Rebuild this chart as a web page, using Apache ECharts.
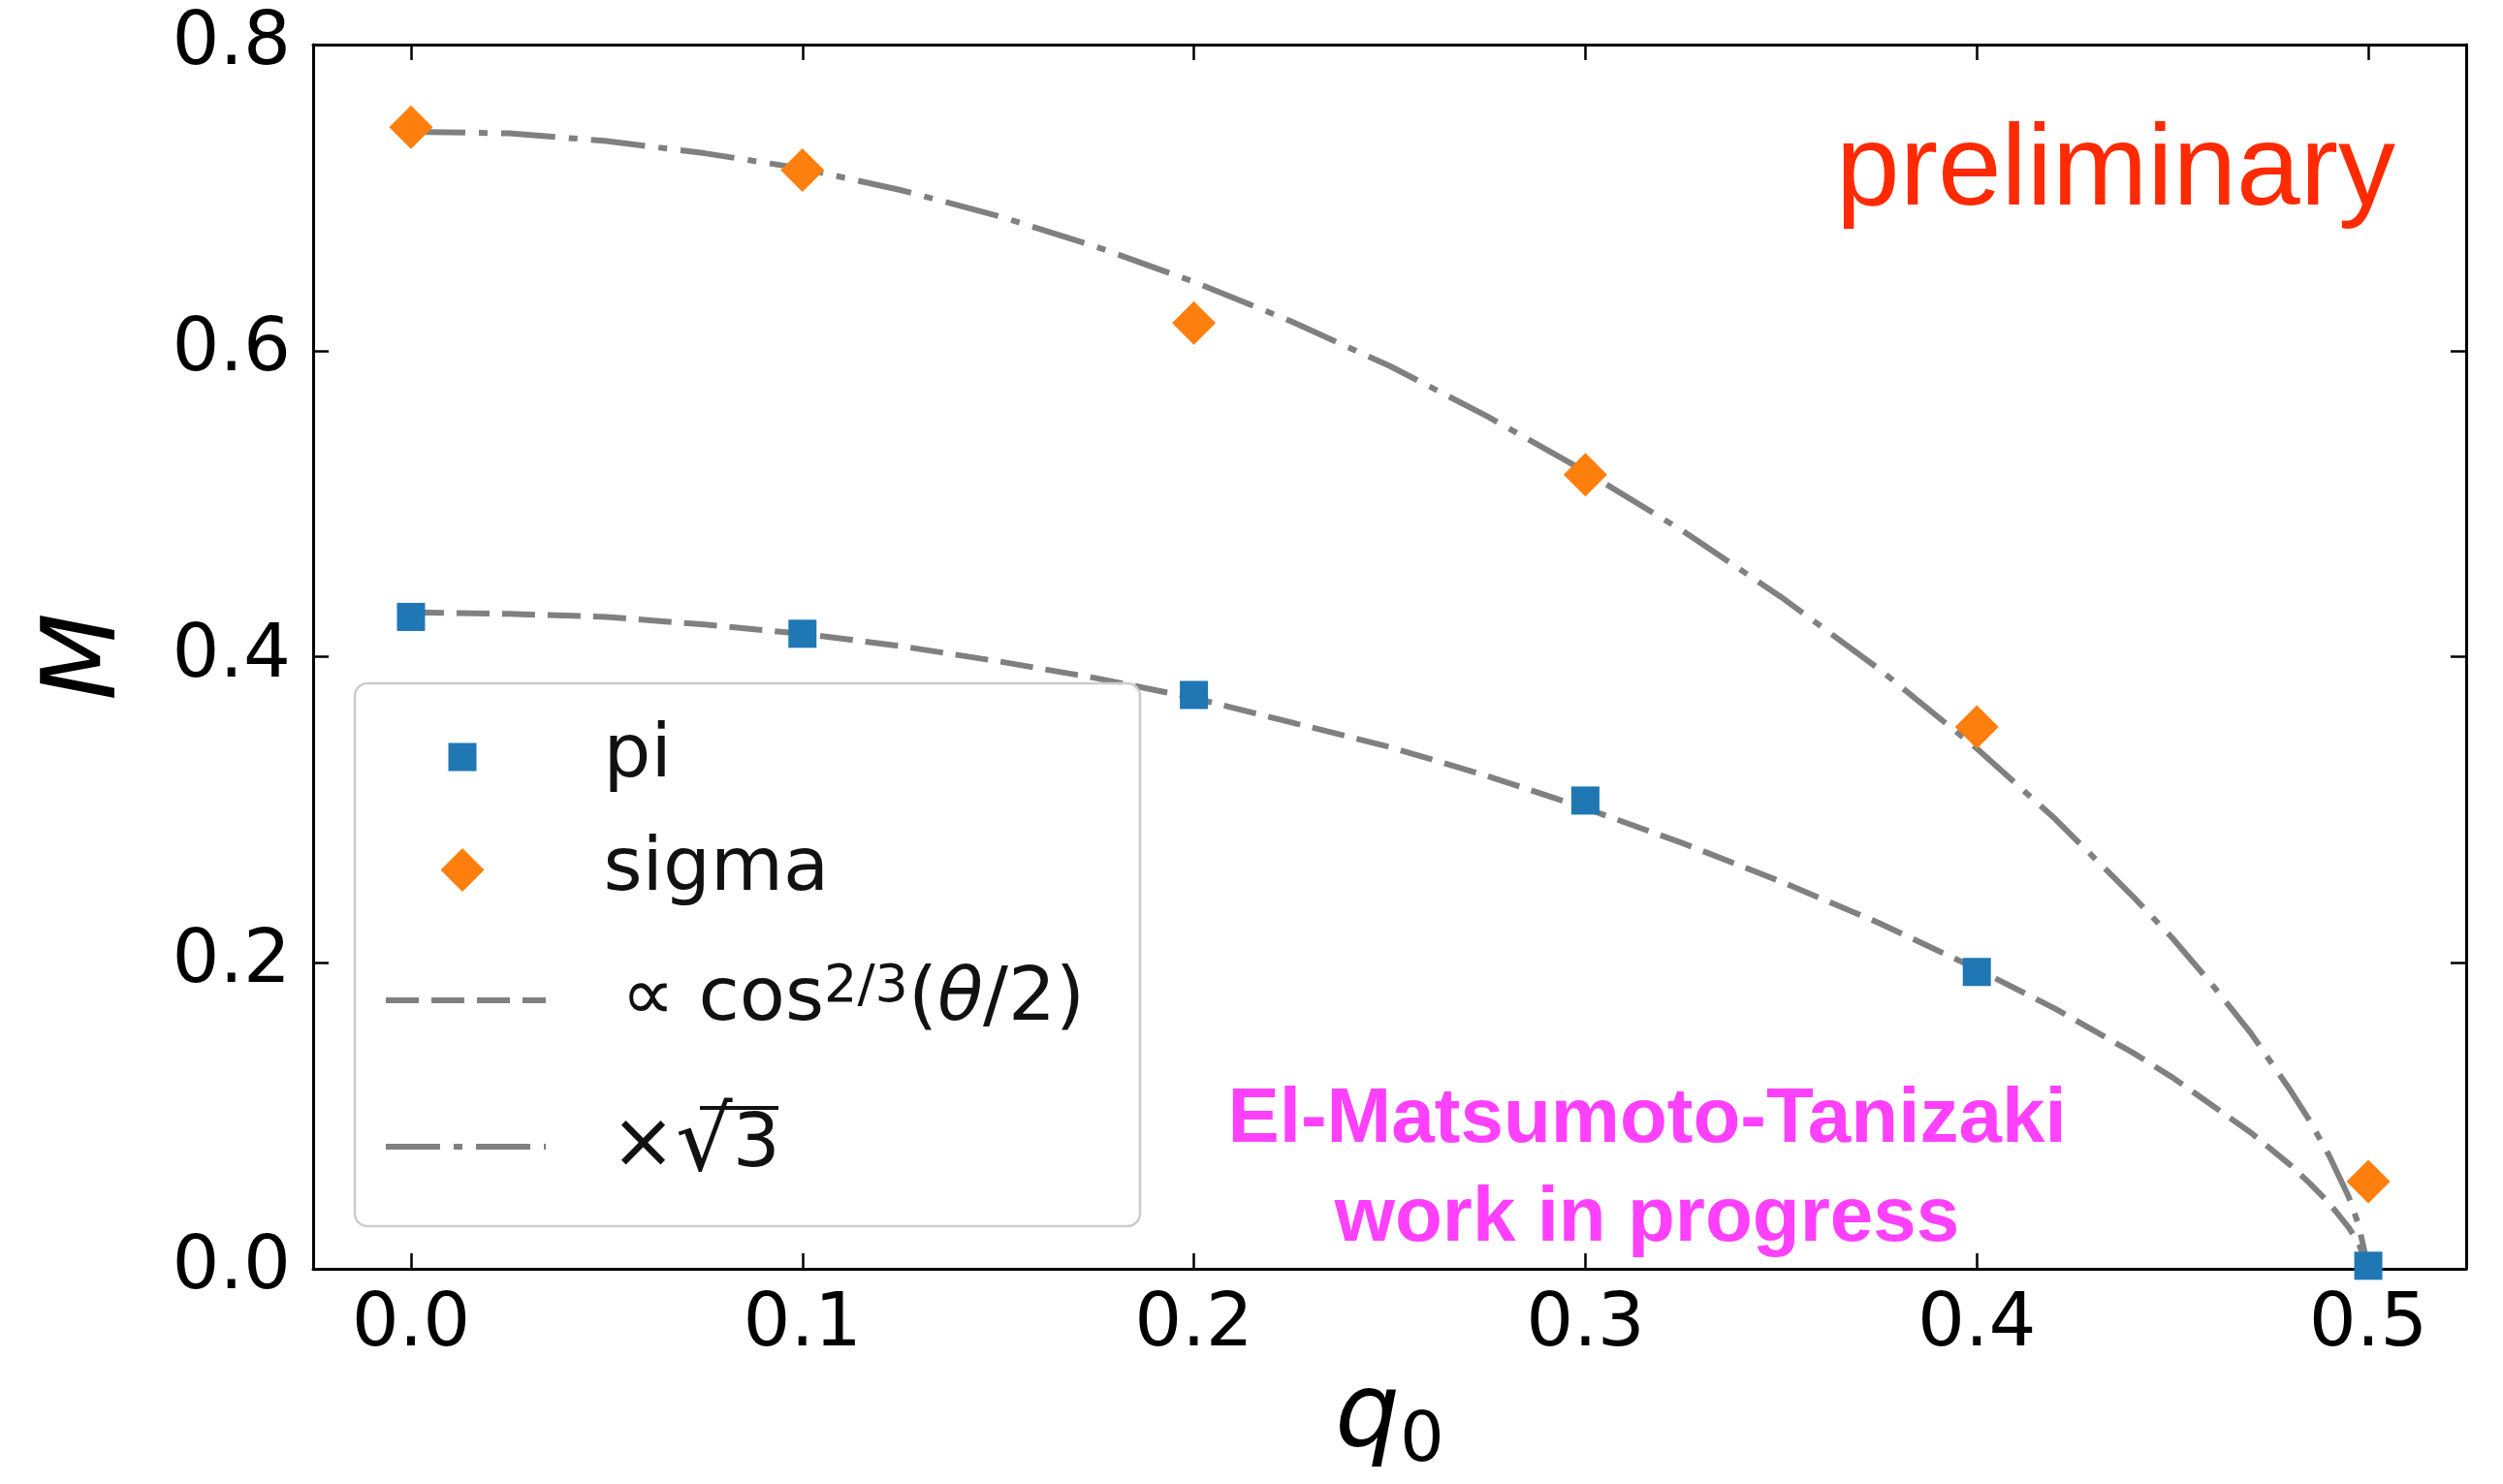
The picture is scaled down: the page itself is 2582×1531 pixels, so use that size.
<!DOCTYPE html>
<html><head><meta charset="utf-8">
<script src="https://cdn.jsdelivr.net/npm/echarts@6/dist/echarts.min.js"></script>
<style>html,body{margin:0;padding:0;background:#fff}#c{width:2582px;height:1531px}</style>
</head><body><div id="c"></div>
<script>
// ---- data ----
const q0 = [0, 0.1, 0.2, 0.3, 0.4, 0.5];
const piMass = [0.426, 0.415, 0.375, 0.306, 0.194, 0.002];
const sigmaMass = [0.746, 0.718, 0.618, 0.519, 0.354, 0.057];
const qCurve = [0, 0.025, 0.05, 0.075, 0.1, 0.125, 0.15, 0.175, 0.2, 0.225, 0.25, 0.275, 0.3, 0.325, 0.35, 0.375, 0.4, 0.42, 0.44, 0.45, 0.46, 0.47, 0.48, 0.485, 0.49, 0.495, 0.4975, 0.5];
const fitPi = [0.429, 0.428, 0.426, 0.421, 0.415, 0.407, 0.397, 0.386, 0.373, 0.357, 0.341, 0.322, 0.301, 0.278, 0.253, 0.226, 0.196, 0.170, 0.141, 0.125, 0.107, 0.089, 0.068, 0.056, 0.043, 0.027, 0.017, 0];
const fitSigma = [0.743, 0.742, 0.737, 0.729, 0.719, 0.705, 0.688, 0.668, 0.645, 0.619, 0.590, 0.557, 0.521, 0.482, 0.439, 0.392, 0.340, 0.294, 0.243, 0.216, 0.186, 0.154, 0.117, 0.097, 0.074, 0.047, 0.029, 0];
const xTicks = [0, 0.1, 0.2, 0.3, 0.4, 0.5];
const yTicks = [0, 0.2, 0.4, 0.6, 0.8];
const names = ['pi', 'sigma', 'fit', 'fitSqrt3'];

const pair = (xs, ys) => xs.map((x, i) => [x, ys[i]]);
const FONT = 'DejaVu Sans';
const GRAY = '#808080';
const TXT = '#111';
const fmt = v => Number(v).toFixed(1);

const tick = { inside: true, length: 16, lineStyle: { color: '#000', width: 2.5 } };
const axLine = { show: true, onZero: false, lineStyle: { color: '#000', width: 3 } };
const lblStyle = { fontFamily: FONT, fontSize: 77, color: '#000' };

const legendBase = {
  orient: 'vertical', padding: 0, selectedMode: false, z: 5,
  textStyle: { fontFamily: FONT, fontSize: 77, color: TXT, lineHeight: 80 },
  lineStyle: { width: 6 }
};

const chart = echarts.init(document.getElementById('c'), null, { renderer: 'canvas' });
chart.setOption({
  animation: false,
  backgroundColor: '#fff',
  grid: { left: 323, top: 46, width: 2221, height: 1263, containLabel: false, outerBoundsMode: 'none' },
  xAxis: [
    {
      type: 'value', min: -0.025, max: 0.525, position: 'bottom',
      axisLine: axLine, splitLine: { show: false },
      axisTick: Object.assign({ customValues: xTicks }, tick),
      axisLabel: Object.assign({ customValues: xTicks, formatter: fmt, margin: 20 }, lblStyle),
      name: '{q|q}{s|0}', nameLocation: 'middle', nameGap: 95,
      nameTextStyle: {
        fontSize: 105, color: '#000',
        rich: {
          q: { fontFamily: FONT, fontStyle: 'italic', fontSize: 105, lineHeight: 120, color: '#000' },
          s: { fontFamily: FONT, fontSize: 72, lineHeight: 64, verticalAlign: 'bottom', color: '#000' }
        }
      }
    },
    {
      type: 'value', min: -0.025, max: 0.525, position: 'top',
      axisLine: axLine, splitLine: { show: false },
      axisTick: Object.assign({ customValues: xTicks }, tick),
      axisLabel: { show: false, customValues: xTicks }
    }
  ],
  yAxis: [
    {
      type: 'value', min: 0, max: 0.8, interval: 0.2, position: 'left',
      axisLine: axLine, splitLine: { show: false },
      axisTick: tick,
      axisLabel: Object.assign({ formatter: fmt, margin: 23 }, lblStyle),
      name: 'M', nameLocation: 'middle', nameGap: 180, nameRotate: 90,
      nameTextStyle: { fontFamily: FONT, fontStyle: 'italic', fontSize: 105, color: '#000' }
    },
    {
      type: 'value', min: 0, max: 0.8, interval: 0.2, position: 'right',
      axisLine: axLine, splitLine: { show: false },
      axisTick: tick, axisLabel: { show: false }
    }
  ],
  legend: [
    Object.assign({}, legendBase, {
      data: [{ name: 'pi', icon: 'rect' }], left: 462.5, top: 741, itemWidth: 29, itemHeight: 29,
      textStyle: Object.assign({}, legendBase.textStyle, { padding: [0, 0, 0, 126] })
    }),
    Object.assign({}, legendBase, {
      data: [{ name: 'sigma', icon: 'diamond' }], left: 454.5, top: 857.5, itemWidth: 45, itemHeight: 45,
      textStyle: Object.assign({}, legendBase.textStyle, { padding: [0, 0, 0, 118] })
    }),
    Object.assign({}, legendBase, {
      data: ['fit'], left: 395, top: 992, itemWidth: 165, itemHeight: 2,
      itemStyle: { opacity: 0 },
      formatter: () => '{m|\u221d cos}{sup|2/3}{m|(}{it|\u03b8}{m|/2)}',
      textStyle: Object.assign({}, legendBase.textStyle, {
        padding: [0, 0, 0, 73],
        rich: {
          m: { fontFamily: FONT, fontSize: 77, lineHeight: 80, color: TXT },
          it: { fontFamily: FONT, fontSize: 77, lineHeight: 80, fontStyle: 'italic', color: TXT },
          sup: { fontFamily: FONT, fontSize: 54, lineHeight: 34, verticalAlign: 'top', color: TXT }
        }
      })
    }),
    Object.assign({}, legendBase, {
      data: ['fitSqrt3'], left: 395, top: 1123, itemWidth: 165, itemHeight: 2,
      itemStyle: { opacity: 0 },
      formatter: () => '{t|\u00d7}{r|\u221a}{v|3}',
      textStyle: Object.assign({}, legendBase.textStyle, {
        padding: [0, 0, 0, 62],
        rich: {
          t: { fontFamily: FONT, fontSize: 80, lineHeight: 120, color: TXT },
          r: { fontFamily: FONT, fontSize: 92, lineHeight: 120, color: TXT },
          v: { fontFamily: FONT, fontSize: 77, lineHeight: 120, color: TXT }
        }
      })
    })
  ],
  graphic: [
    {
      type: 'rect', z: 3,
      shape: { x: 366, y: 705, width: 810, height: 560, r: 13 },
      style: { fill: 'rgba(255,255,255,0.8)', stroke: '#cccccc', lineWidth: 2.5 }
    },
    {
      // vinculum of the square-root sign in the legend label
      type: 'line', z: 6,
      shape: { x1: 722, y1: 1143, x2: 803, y2: 1143 },
      style: { stroke: TXT, lineWidth: 4 }
    },
    {
      type: 'text', z: 6,
      style: { text: 'preliminary', x: 1894, y: 178, fontFamily: 'Liberation Sans', fontSize: 118,
               fill: '#ff2a00', align: 'left', verticalAlign: 'middle' }
    },
    {
      type: 'text', z: 6,
      style: { text: 'El-Matsumoto-Tanizaki\nwork in progress', x: 1699, y: 1207, fontFamily: 'Liberation Sans',
               fontSize: 80, fontWeight: 'bold', lineHeight: 102, fill: '#ff40ff', align: 'center', verticalAlign: 'middle' }
    }
  ],
  series: [
    {
      name: names[0], type: 'scatter', symbol: 'rect', symbolSize: 29,
      itemStyle: { color: '#1f77b4', opacity: 1 }, data: pair(q0, piMass), z: 2
    },
    {
      name: names[1], type: 'scatter', symbol: 'diamond', symbolSize: 45,
      itemStyle: { color: '#ff7f0e', opacity: 1 }, data: pair(q0, sigmaMass), z: 2
    },
    {
      name: names[2], type: 'line', symbol: 'none', showSymbol: false, smooth: false,
      lineStyle: { color: GRAY, width: 6, type: [34, 13], cap: 'butt' },
      itemStyle: { color: GRAY },
      data: pair(qCurve, fitPi), z: 2
    },
    {
      name: names[3], type: 'line', symbol: 'none', showSymbol: false, smooth: false,
      lineStyle: { color: GRAY, width: 6, type: [56, 14, 9, 14], cap: 'butt' },
      itemStyle: { color: GRAY },
      data: pair(qCurve, fitSigma), z: 2
    }
  ]
});
</script>
</body></html>
